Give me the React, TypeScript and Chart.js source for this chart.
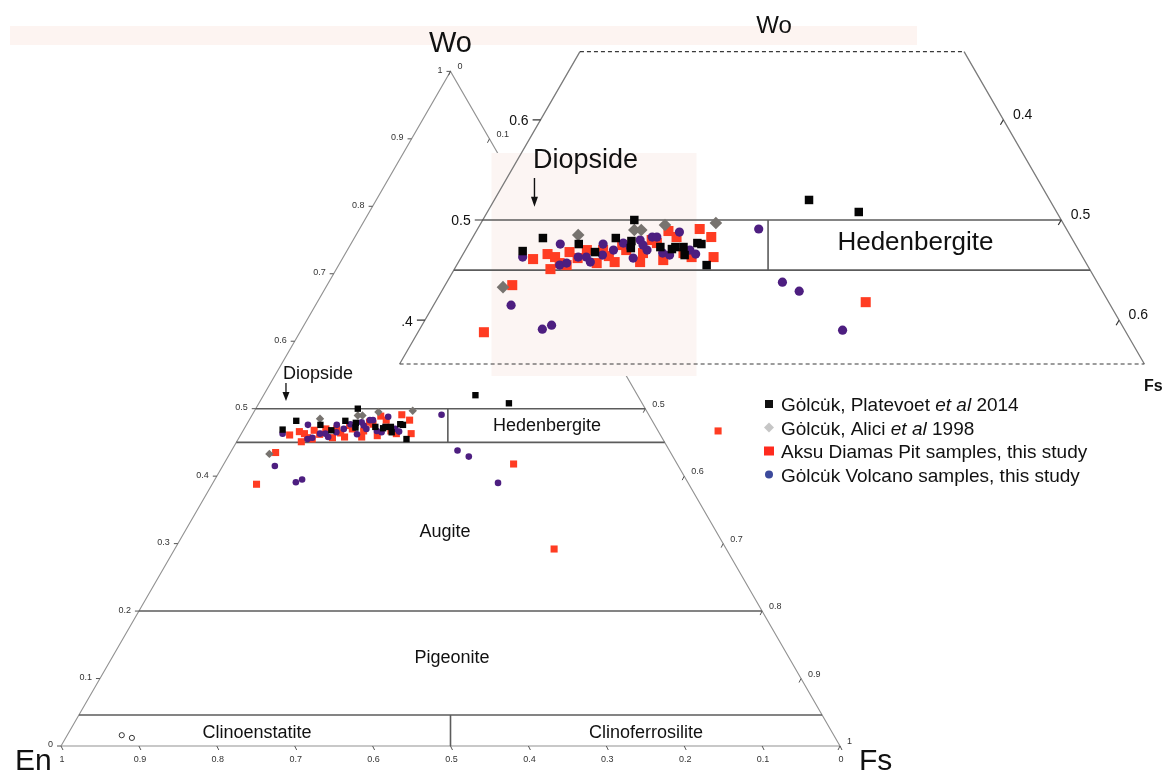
import React, { useEffect, useRef } from 'react';
import { Chart, registerables } from 'chart.js';

Chart.register(...registerables);

// ---------------- DATA (ternary fractions; En = 1 - Wo - Fs) ----------------
const platevoetWo = [0.500, 0.482, 0.469, 0.476, 0.482, 0.468, 0.479, 0.472, 0.473, 0.471, 0.473, 0.473, 0.465, 0.477, 0.476, 0.455, 0.520, 0.508];
const platevoetFs = [0.131, 0.061, 0.050, 0.095, 0.124, 0.113, 0.139, 0.142, 0.167, 0.178, 0.180, 0.187, 0.192, 0.197, 0.201, 0.216, 0.272, 0.321];

const aliciWo = [0.485, 0.490, 0.490, 0.495, 0.497, 0.433];
const aliciFs = [0.090, 0.136, 0.142, 0.160, 0.203, 0.051];

const aksuWo = [0.491, 0.483, 0.463, 0.489, 0.461, 0.451, 0.466, 0.455, 0.457, 0.464, 0.470, 0.460, 0.463, 0.470, 0.480, 0.483, 0.435, 0.388, 0.463, 0.468, 0.467, 0.475, 0.457, 0.470, 0.467, 0.477, 0.418, 0.467, 0.292, 0.458, 0.458, 0.462];
const aksuFs = [0.192, 0.206, 0.218, 0.166, 0.063, 0.083, 0.073, 0.095, 0.120, 0.127, 0.139, 0.176, 0.199, 0.105, 0.156, 0.176, 0.058, 0.057, 0.081, 0.091, 0.155, 0.133, 0.088, 0.119, 0.190, 0.162, 0.372, 0.610, 0.487, 0.157, 0.135, 0.101];

const volcanoWo = [0.476, 0.455, 0.457, 0.463, 0.463, 0.476, 0.465, 0.470, 0.477, 0.480, 0.470, 0.483, 0.483, 0.467, 0.488, 0.465, 0.470, 0.466, 0.463, 0.415, 0.391, 0.395, 0.491, 0.475, 0.473, 0.438, 0.429, 0.390, 0.462, 0.458];
const volcanoFs = [0.079, 0.089, 0.094, 0.101, 0.108, 0.116, 0.121, 0.128, 0.133, 0.146, 0.157, 0.155, 0.159, 0.172, 0.176, 0.179, 0.194, 0.201, 0.053, 0.067, 0.106, 0.112, 0.243, 0.151, 0.141, 0.290, 0.309, 0.366, 0.149, 0.114];

const pigeoniteWo = [0.016, 0.012];
const pigeoniteFs = [0.070, 0.085];

const tickValues = [0, 0.1, 0.2, 0.3, 0.4, 0.5, 0.6, 0.7, 0.8, 0.9, 1];
const tickLabels = ['0', '0.1', '0.2', '0.3', '0.4', '0.5', '0.6', '0.7', '0.8', '0.9', '1'];

const fieldWoLevels = [0.5, 0.45, 0.2, 0.046];
const dividerX = [0.4966, 0.5];
const dividerWoTop = [0.5, 0.046];
const dividerWoBottom = [0.45, 0];
const fieldNames = ['Diopside', 'Hedenbergite', 'Augite', 'Pigeonite', 'Clinoenstatite', 'Clinoferrosilite'];

const insetWoRange = [0.3563, 0.668];
const insetWoLevels = [0.5, 0.45];
const insetTickWo = [0.6, 0.5, 0.4];
const insetLeftLabels = ['0.6', '0.5', '.4'];
const insetRightLabels = ['0.4', '0.5', '0.6'];

const legendLabels: [string, boolean][][] = [
  [['Gȯlcu̇k, Platevoet ', false], ['et al', true], [' 2014', false]],
  [['Gȯlcu̇k, Alici ', false], ['et al', true], [' 1998', false]],
  [['Aksu Diamas Pit samples, this study', false]],
  [['Gȯlcu̇k Volcano samples, this study', false]],
];

// ---------------- LAYOUT ----------------
const W = 1167;
const H = 770;
const FONT = '"Liberation Sans", Arial, Helvetica, sans-serif';
const MAIN = { left: 61, base: 746, unit: 779 };
const INSET = { left: 193.5, base: 721, unit: 1157 };
const SQ = Math.sqrt(3) / 2;

const mainFieldAnchors = [
  { x: 0.285, y: 0.4775, align: 'left' },
  { x: 0.6239, y: 0.4108, align: 'center' },
  { x: 0.4929, y: 0.2747, align: 'center' },
  { x: 0.5019, y: 0.113, align: 'center' },
  { x: 0.2516, y: 0.0167, align: 'center' },
  { x: 0.751, y: 0.0167, align: 'center' },
];

type P = { x: number | null; y: number | null };
const GAP: P = { x: null, y: null };
const cart = (wo: number, fs: number): P => ({ x: fs + wo / 2, y: wo * SQ });

const COLORS = {
  black: '#050505',
  gray: '#77736f',
  red: '#ff3c22',
  purple: '#4d1e80',
};

function buildConfig(): any {
  const mu = 1 / MAIN.unit;
  const iu = 1 / INSET.unit;
  const [woBot, woTop] = insetWoRange;

  const mainFrame = [cart(0, 0), cart(1, 0), cart(0, 1), cart(0, 0)];
  const mainBounds: P[] = [];
  fieldWoLevels.forEach((w) => mainBounds.push(cart(w, 0), cart(w, 1 - w), GAP));
  dividerX.forEach((x, i) => mainBounds.push({ x, y: dividerWoTop[i] * SQ }, { x, y: dividerWoBottom[i] * SQ }, GAP));

  const mainTicks: P[] = [];
  tickValues.forEach((t) => {
    const l = cart(t, 0);
    mainTicks.push(l, { x: (l.x as number) - 4 * mu, y: l.y }, GAP);
    const r = cart(1 - t, t);
    mainTicks.push(r, { x: (r.x as number) - 2 * mu, y: (r.y as number) - 4 * mu }, GAP);
    const b = cart(0, 1 - t);
    mainTicks.push(b, { x: (b.x as number) + 2 * mu, y: (b.y as number) - 4 * mu }, GAP);
  });

  const insetSides = [cart(woTop, 0), cart(woBot, 0), GAP, cart(woTop, 1 - woTop), cart(woBot, 1 - woBot)];
  const insetDashed = [cart(woTop, 0), cart(woTop, 1 - woTop), GAP, cart(woBot, 0), cart(woBot, 1 - woBot)];
  const insetBounds: P[] = [];
  insetWoLevels.forEach((w) => insetBounds.push(cart(w, 0), cart(w, 1 - w), GAP));
  insetBounds.push({ x: dividerX[0], y: dividerWoTop[0] * SQ }, { x: dividerX[0], y: dividerWoBottom[0] * SQ });
  const insetTicks: P[] = [];
  insetTickWo.forEach((w) => {
    const l = cart(w, 0);
    insetTicks.push(l, { x: (l.x as number) - 8 * iu, y: l.y }, GAP);
    const r = cart(w, 1 - w);
    insetTicks.push(r, { x: (r.x as number) - 3 * iu, y: (r.y as number) - 5 * iu }, GAP);
  });

  const inInset = (w: number, f: number) => w >= woBot && w <= woTop && f >= 0 && 1 - w - f >= 0;
  const pts = (wo: number[], fs: number[], inset: boolean) =>
    wo.map((w, i) => ({ w, f: fs[i] })).filter((p) => !inset || inInset(p.w, p.f)).map((p) => cart(p.w, p.f));

  const lineDs = (data: P[], color: string, width: number, order: number, inset: boolean, extra: any = {}) => ({
    data, borderColor: color, borderWidth: width, pointRadius: 0, pointHoverRadius: 0, fill: false,
    showLine: true, spanGaps: false, tension: 0, order, clip: false,
    xAxisID: inset ? 'x2' : 'x', yAxisID: inset ? 'y2' : 'y', ...extra,
  });
  const pointDs = (label: string, data: P[], style: string, color: string, r: number, order: number, inset: boolean, border?: string) => ({
    label, data, showLine: false, pointStyle: style, pointRadius: r, pointHoverRadius: r,
    pointBackgroundColor: color, pointBorderColor: border || color, pointBorderWidth: border ? 1 : 0,
    order, clip: false, xAxisID: inset ? 'x2' : 'x', yAxisID: inset ? 'y2' : 'y',
  });

  const datasets = [
    lineDs(mainFrame, '#929292', 1.1, 50, false),
    lineDs(mainBounds, '#5c5c5c', 1.6, 49, false),
    lineDs(mainTicks, '#555555', 1, 48, false),
    lineDs(insetSides, '#7a7a7a', 1.3, 40, true, { backdrop: true }),
    lineDs(insetDashed, '#3a3a3a', 1.2, 39, true, { borderDash: [4, 3] }),
    lineDs(insetBounds, '#5c5c5c', 1.6, 38, true),
    lineDs(insetTicks, '#333333', 1.2, 37, true),
    pointDs('pigeonite', pts(pigeoniteWo, pigeoniteFs, false), 'circle', '#ffffff', 2.6, 15, false, '#333333'),
    pointDs('aksu', pts(aksuWo, aksuFs, false), 'rect', COLORS.red, 5.0, 14, false),
    pointDs('volcano', pts(volcanoWo, volcanoFs, false), 'circle', COLORS.purple, 3.3, 13, false),
    pointDs('alici', pts(aliciWo, aliciFs, false), 'rectRot', COLORS.gray, 4.2, 12, false),
    pointDs('platevoet', pts(platevoetWo, platevoetFs, false), 'rect', COLORS.black, 4.5, 11, false),
    pointDs('aksu-inset', pts(aksuWo, aksuFs, true), 'rect', COLORS.red, 7.1, 4, true),
    pointDs('volcano-inset', pts(volcanoWo, volcanoFs, true), 'circle', COLORS.purple, 4.6, 3, true),
    pointDs('alici-inset', pts(aliciWo, aliciFs, true), 'rectRot', COLORS.gray, 6.3, 2, true),
    pointDs('platevoet-inset', pts(platevoetWo, platevoetFs, true), 'rect', COLORS.black, 6.0, 1, true),
  ];

  const scale = (axis: string, min: number, max: number) => ({
    type: 'linear', axis, display: false, min, max, bounds: 'data', grace: 0,
  });

  return {
    type: 'line',
    data: { datasets },
    options: {
      animation: false,
      responsive: false,
      devicePixelRatio: 1,
      events: [],
      layout: { padding: 0, autoPadding: false },
      plugins: { legend: { display: false }, tooltip: { enabled: false } },
      scales: {
        x: scale('x', -MAIN.left / MAIN.unit, (W - MAIN.left) / MAIN.unit),
        y: scale('y', -(H - MAIN.base) / MAIN.unit, MAIN.base / MAIN.unit),
        x2: scale('x', -INSET.left / INSET.unit, (W - INSET.left) / INSET.unit),
        y2: scale('y', -(H - INSET.base) / INSET.unit, INSET.base / INSET.unit),
      },
    },
    plugins: [decorPlugin],
  };
}

function toPx(chart: any, p: P, inset: boolean) {
  const sx = chart.scales[inset ? 'x2' : 'x'];
  const sy = chart.scales[inset ? 'y2' : 'y'];
  return { X: sx.getPixelForValue(p.x), Y: sy.getPixelForValue(p.y) };
}

function txt(ctx: CanvasRenderingContext2D, s: string, X: number, Y: number, size: number, align: any = 'center', baseline: any = 'middle', color = '#111', weight = 'normal') {
  ctx.font = `${weight} ${size}px ${FONT}`;
  ctx.fillStyle = color;
  ctx.textAlign = align;
  ctx.textBaseline = baseline;
  ctx.fillText(s, X, Y);
}

function arrow(ctx: CanvasRenderingContext2D, X: number, Y1: number, Y2: number, head: number, halfW: number, lw: number) {
  ctx.strokeStyle = '#111';
  ctx.lineWidth = lw;
  ctx.beginPath();
  ctx.moveTo(X, Y1);
  ctx.lineTo(X, Y2 - head + 1);
  ctx.stroke();
  ctx.fillStyle = '#111';
  ctx.beginPath();
  ctx.moveTo(X - halfW, Y2 - head);
  ctx.lineTo(X + halfW, Y2 - head);
  ctx.lineTo(X, Y2);
  ctx.closePath();
  ctx.fill();
}

const decorPlugin = {
  id: 'ternaryDecor',
  beforeDatasetsDraw(chart: any) {
    const ctx: CanvasRenderingContext2D = chart.ctx;
    ctx.save();
    // faint band at the top of the figure
    ctx.fillStyle = '#fdf4f1';
    ctx.fillRect(10, 26, 907, 19);

    const apex = toPx(chart, cart(1, 0), false);
    const enC = toPx(chart, cart(0, 0), false);
    const fsC = toPx(chart, cart(0, 1), false);
    txt(ctx, 'Wo', apex.X, apex.Y - 27, 29);
    txt(ctx, 'En', enC.X - 46, enC.Y + 23.5, 30, 'left', 'alphabetic');
    txt(ctx, 'Fs', fsC.X + 19, fsC.Y + 23.5, 30, 'left', 'alphabetic');

    tickValues.forEach((t, i) => {
      const l = toPx(chart, cart(t, 0), false);
      txt(ctx, tickLabels[i], l.X - 8, l.Y - 1, 9, 'right', 'middle', '#333');
      const r = toPx(chart, cart(1 - t, t), false);
      txt(ctx, tickLabels[i], r.X + 7, r.Y - 4.5, 9, 'left', 'middle', '#333');
      const b = toPx(chart, cart(0, 1 - t), false);
      txt(ctx, tickLabels[i], b.X + 1, b.Y + 14, 9, 'center', 'middle', '#333');
    });

    fieldNames.forEach((name, i) => {
      const a = mainFieldAnchors[i];
      const p = toPx(chart, { x: a.x, y: a.y }, false);
      txt(ctx, name, p.X, p.Y, 18, a.align);
    });
    const a1 = toPx(chart, { x: 0.2888, y: 0.466 }, false);
    const a2 = toPx(chart, { x: 0.2888, y: 0.4429 }, false);
    arrow(ctx, a1.X, a1.Y, a2.Y, 9, 3.5, 1.3);
    ctx.restore();
  },
  beforeDatasetDraw(chart: any, args: any) {
    const ds = chart.data.datasets[args.index];
    if (!ds || !ds.backdrop) return;
    const ctx: CanvasRenderingContext2D = chart.ctx;
    const [woBot, woTop] = insetWoRange;
    const corners = [cart(woTop, 0), cart(woTop, 1 - woTop), cart(woBot, 1 - woBot), cart(woBot, 0)].map((p) => toPx(chart, p, true));
    ctx.save();
    ctx.fillStyle = '#ffffff';
    ctx.beginPath();
    corners.forEach((c, i) => (i ? ctx.lineTo(c.X, c.Y) : ctx.moveTo(c.X, c.Y)));
    ctx.closePath();
    ctx.fill();
    // faint highlight behind the inset data cluster
    ctx.fillStyle = '#fcf5f3';
    ctx.fillRect(491.5, 153, 205, 223);
    ctx.restore();
  },
  afterDatasetsDraw(chart: any) {
    const ctx: CanvasRenderingContext2D = chart.ctx;
    const [woBot, woTop] = insetWoRange;
    ctx.save();
    const topMid = toPx(chart, cart(woTop, (1 - woTop) / 2), true);
    txt(ctx, 'Wo', topMid.X + 2, topMid.Y - 25, 24);
    const brc = toPx(chart, cart(woBot, 1 - woBot), true);
    txt(ctx, 'Fs', brc.X + 9, brc.Y + 23, 16, 'center', 'middle', '#111', 'bold');

    insetTickWo.forEach((w, i) => {
      const l = toPx(chart, cart(w, 0), true);
      txt(ctx, insetLeftLabels[i], l.X - 12, l.Y + 1.5, 14, 'right');
      const r = toPx(chart, cart(w, 1 - w), true);
      txt(ctx, insetRightLabels[i], r.X + 9.5, r.Y - 5, 14, 'left');
    });

    const d = toPx(chart, { x: 0.2934, y: 0.484 }, true);
    txt(ctx, fieldNames[0], d.X, d.Y, 27, 'left');
    const h = toPx(chart, { x: 0.624, y: 0.4129 }, true);
    txt(ctx, fieldNames[1], h.X, h.Y, 26);
    const b1 = toPx(chart, { x: 0.2947, y: 0.4693 }, true);
    const b2 = toPx(chart, { x: 0.2947, y: 0.4445 }, true);
    arrow(ctx, b1.X, b1.Y, b2.Y, 10, 3.5, 1.4);

    // legend
    const baselines = [411, 434.5, 458, 481.5];
    const markerX = 769;
    legendLabels.forEach((parts, i) => {
      const by = baselines[i];
      const cy = by - 7;
      if (i === 0) {
        ctx.fillStyle = '#111';
        ctx.fillRect(markerX - 4, cy - 4, 8, 8);
      } else if (i === 1) {
        ctx.fillStyle = '#c6c6c6';
        ctx.beginPath();
        ctx.moveTo(markerX - 5, cy);
        ctx.lineTo(markerX, cy - 5);
        ctx.lineTo(markerX + 5, cy);
        ctx.lineTo(markerX, cy + 5);
        ctx.closePath();
        ctx.fill();
      } else if (i === 2) {
        ctx.fillStyle = '#ff2a1e';
        ctx.fillRect(markerX - 5, cy - 4.5, 10, 9);
      } else {
        ctx.fillStyle = '#3c4a9c';
        ctx.beginPath();
        ctx.arc(markerX, cy, 4, 0, Math.PI * 2);
        ctx.fill();
      }
      let x = 781;
      parts.forEach(([s, it]) => {
        ctx.font = `${it ? 'italic ' : ''}19px ${FONT}`;
        ctx.fillStyle = '#111';
        ctx.textAlign = 'left';
        ctx.textBaseline = 'alphabetic';
        ctx.fillText(s, x, by);
        x += ctx.measureText(s).width;
      });
    });
    ctx.restore();
  },
};

export default function App() {
  const ref = useRef<HTMLCanvasElement>(null);
  useEffect(() => {
    const canvas = ref.current;
    if (!canvas) return;
    const chart = new Chart(canvas, buildConfig());
    return () => chart.destroy();
  }, []);
  return (
    <div style={{ position: 'absolute', left: 0, top: 0, width: W, height: H, background: '#ffffff' }}>
      <canvas ref={ref} width={W} height={H} style={{ display: 'block', width: W, height: H }} />
    </div>
  );
}
